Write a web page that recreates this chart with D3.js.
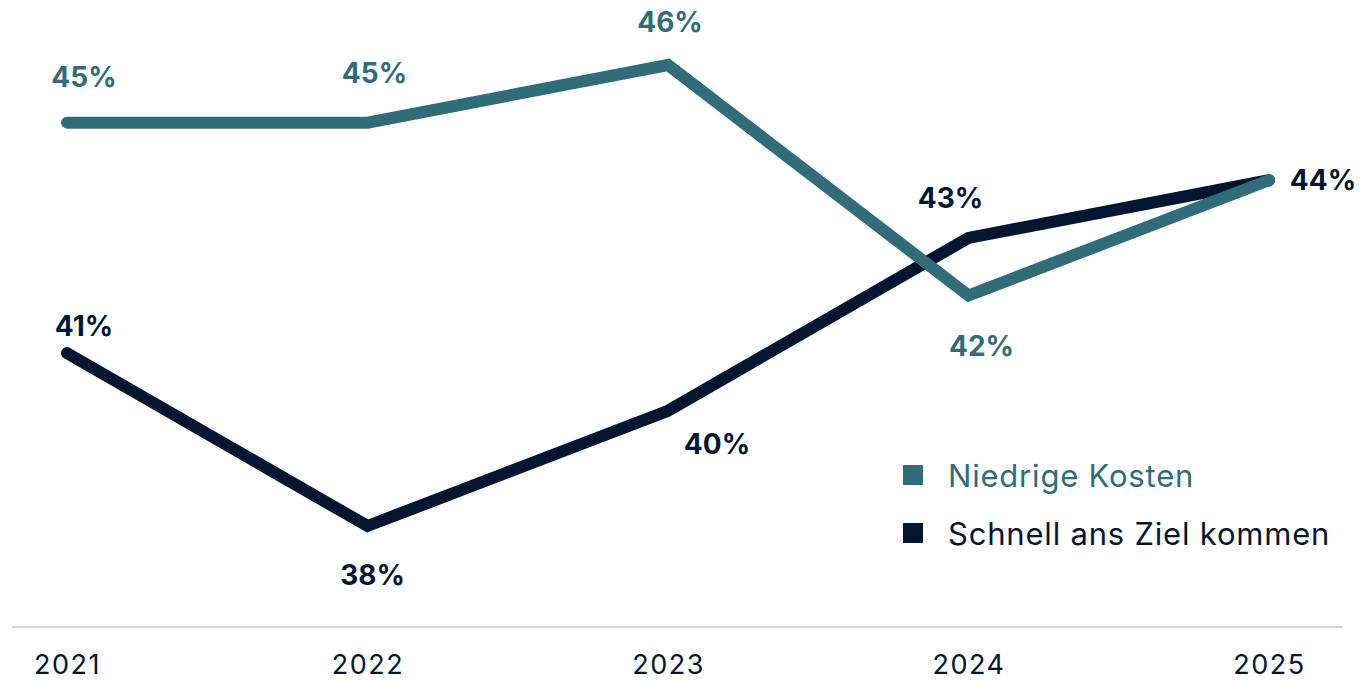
<!DOCTYPE html>
<html><head><meta charset="utf-8">
<script src="https://cdn.jsdelivr.net/npm/d3@7"></script>
<style>
html,body{margin:0;padding:0;background:#fff;}
svg{display:block;font-family:Inter, "Noto Sans", sans-serif;}
</style></head>
<body><svg id="c" width="1360" height="683"></svg>
<script>
const years = ["2021","2022","2023","2024","2025"];
const niedrigeKosten = [45,45,46,42,44];
const schnellZiel = [41,38,40,43,44];
const seriesNames = ["Niedrige Kosten","Schnell ans Ziel kommen"];
const colors = ["#306d78","#021631"];
// label placement per point: [dx, dy]; null = no label (shared value)
const labelPosA = [[17,-46],[7,-50],[2,-43],[13,50],null];
const labelPosB = [[17,-27],[5,49],[49,33],[-18,-40],[54,0]];

const svg = d3.select("#c");
const x = d3.scalePoint().domain(years).range([67,1269]);
const y = d3.scaleLinear().domain([38,46]).range([526,65]);

// axis
const ax = svg.append("g").attr("transform","translate(0,627)")
  .call(d3.axisBottom(x).tickSize(0).tickPadding(28));
ax.select(".domain").remove();
svg.append("line").attr("x1",12).attr("x2",1343).attr("y1",627).attr("y2",627)
  .attr("stroke","#d4d4d4").attr("stroke-width",2);
ax.selectAll("text").attr("font-size",27).attr("fill","#021631")
  .attr("letter-spacing",1.5)
  .attr("font-family","Inter, 'Noto Sans', sans-serif");

const line = d3.line().x((d,i)=>x(years[i])).y(d=>y(d));
const data = [
  {vals:schnellZiel, color:colors[1], pos:labelPosB},
  {vals:niedrigeKosten, color:colors[0], pos:labelPosA}
];
data.forEach(s=>{
  svg.append("path").datum(s.vals).attr("d",line).attr("fill","none")
    .attr("stroke",s.color).attr("stroke-width",12)
    .attr("stroke-linejoin","miter").attr("stroke-linecap","round");
});
data.forEach(s=>{
  const pts = s.vals.map((v,i)=>({v,i,p:s.pos[i]})).filter(d=>d.p);
  svg.append("g").selectAll("text").data(pts).join("text")
    .attr("x",d=>x(years[d.i])+d.p[0])
    .attr("y",d=>y(d.v)+d.p[1])
    .attr("text-anchor","middle").attr("dominant-baseline","central")
    .attr("font-size",28).attr("font-weight",700).attr("fill",s.color)
    .text(d=>d.v+"%");
});

// legend
const lg = svg.append("g").attr("transform","translate(903,475)");
[0,1].forEach(i=>{
  const g = lg.append("g").attr("transform",`translate(0,${i*58})`);
  g.append("rect").attr("x",0).attr("y",-10).attr("width",20).attr("height",20).attr("fill",colors[i]);
  g.append("text").attr("x",45).attr("y",0).attr("dominant-baseline","central")
    .attr("font-size",31).attr("letter-spacing",0.8).attr("fill",colors[i]).text(seriesNames[i]);
});
</script></body></html>
